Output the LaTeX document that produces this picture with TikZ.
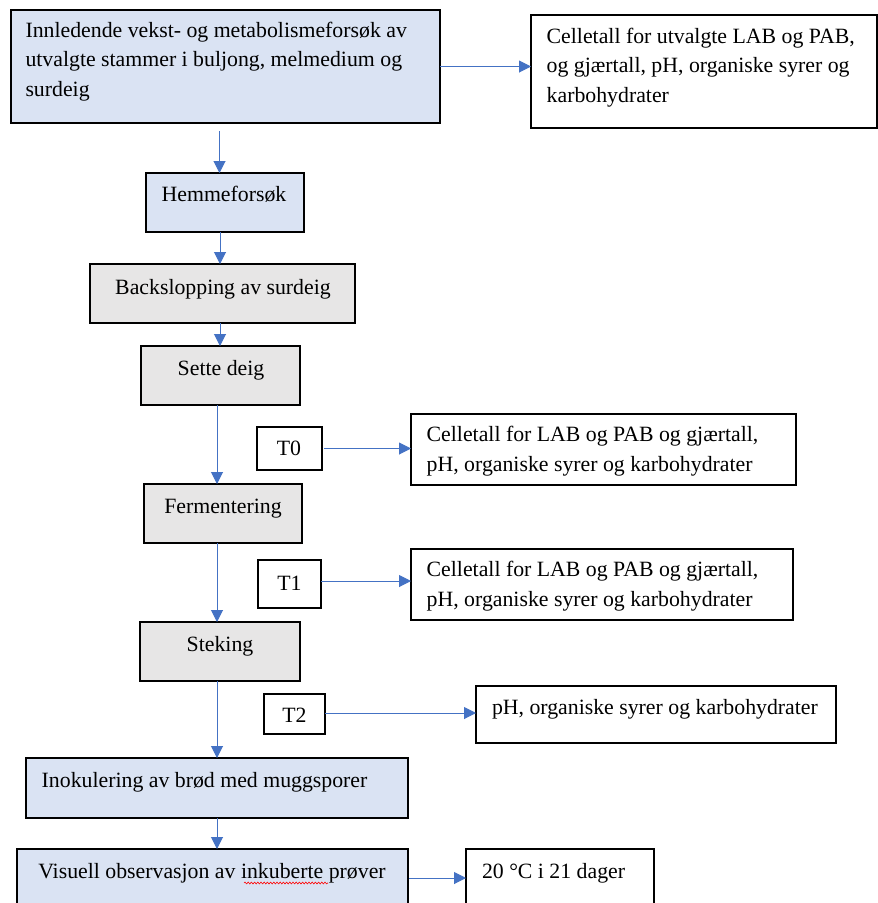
\documentclass[tikz,border=0pt]{standalone}
\usepackage{fontspec}
\setmainfont{Liberation Serif}
\usetikzlibrary{arrows.meta,decorations.pathmorphing}
\definecolor{bluefill}{HTML}{DAE3F3}
\definecolor{grayfill}{HTML}{E7E6E6}
\definecolor{arrowblue}{HTML}{4472C4}
\tikzset{
  boxbase/.style={draw=black, line width=1.4pt, inner sep=0pt, outer sep=0pt, rectangle},
  bluebox/.style={boxbase, fill=bluefill},
  graybox/.style={boxbase, fill=grayfill},
  whitebox/.style={boxbase, fill=white},
  txt/.style={inner sep=0pt, outer sep=0pt, align=left, font=\fontsize{21.8}{29.5}\selectfont},
  arr/.style={draw=arrowblue, line width=1pt, -{Triangle[length=12pt,width=12pt]}},
}
\begin{document}
\begin{tikzpicture}[x=1pt,y=-1pt]
\useasboundingbox (0,0) rectangle (878,903);
\clip (0,0) rectangle (878,903);
\fill[white] (0,0) rectangle (878,903);

% boxes
\node[bluebox, minimum width=429pt, minimum height=113pt] (a) at (225.5,66.5) {};
\node[whitebox, minimum width=346pt, minimum height=113pt] (b) at (704,71.5) {};
\node[bluebox, minimum width=158pt, minimum height=59pt] (h) at (225,202.5) {};
\node[graybox, minimum width=265pt, minimum height=59pt] (bs) at (222.5,293.5) {};
\node[graybox, minimum width=159pt, minimum height=59pt] (s) at (220.5,375.5) {};
\node[whitebox, minimum width=65pt, minimum height=43pt] (t0) at (289.5,448.5) {};
\node[whitebox, minimum width=385pt, minimum height=71pt] (c0) at (603.5,449.5) {};
\node[graybox, minimum width=158pt, minimum height=59pt] (f) at (223,513.5) {};
\node[whitebox, minimum width=63pt, minimum height=48pt] (t1) at (289.5,584) {};
\node[whitebox, minimum width=382pt, minimum height=71pt] (c1) at (602,584.5) {};
\node[graybox, minimum width=160pt, minimum height=59pt] (st) at (220,651.5) {};
\node[whitebox, minimum width=61pt, minimum height=40pt] (t2) at (294.5,714) {};
\node[whitebox, minimum width=360pt, minimum height=57pt] (c2) at (656,714.5) {};
\node[bluebox, minimum width=382pt, minimum height=60pt] (i) at (217,788) {};
\node[bluebox, minimum width=391pt, minimum height=80pt] (v) at (212.5,889) {};
\node[whitebox, minimum width=188pt, minimum height=80pt] (d) at (560,889) {};

% texts (base = baseline of the last line)
\node[txt, anchor=base west] (ta) at (25.5,96) {Innledende vekst- og metabolismeforsøk av\\utvalgte stammer i buljong, melmedium og\\surdeig};
\node[txt, anchor=base west] (tb) at (546.7,102) {Celletall for utvalgte LAB og PAB,\\og gjærtall, pH, organiske syrer og\\karbohydrater};
\node[txt, anchor=base] (th) at (224,201.5) {Hemmeforsøk};
\node[txt, anchor=base] (tbs) at (223,294) {Backslopping av surdeig};
\node[txt, anchor=base] (ts) at (221,375) {Sette deig};
\node[txt, anchor=base] (tt0) at (289,455) {T0};
\node[txt, anchor=base west] (tc0) at (426.7,471) {Celletall for LAB og PAB og gjærtall,\\pH, organiske syrer og karbohydrater};
\node[txt, anchor=base] (tf) at (223,513) {Fermentering};
\node[txt, anchor=base] (tt1) at (289.5,590) {T1};
\node[txt, anchor=base west] (tc1) at (426.7,606) {Celletall for LAB og PAB og gjærtall,\\pH, organiske syrer og karbohydrater};
\node[txt, anchor=base] (tst) at (220,651) {Steking};
\node[txt, anchor=base] (tt2) at (294.5,722) {T2};
\node[txt, anchor=base west] (tc2) at (492,714) {pH, organiske syrer og karbohydrater};
\node[txt, anchor=base west] (ti) at (41.7,787) {Inokulering av brød med muggsporer};
\node[txt, anchor=base west] (tv) at (38.3,878.3) {Visuell observasjon av inkuberte prøver};
\node[txt, anchor=base west] (td) at (482,878.3) {20 °C i 21 dager};

% spell-check squiggle
\draw[red, line width=0.6pt, decorate, decoration={snake, amplitude=0.9pt, segment length=3.2pt}] (244,883) -- (328,883);

% connectors
\draw[arr] (a.east) -- (a.east -| b.west);
\draw[arr] ([xshift=-6pt,yshift=-8pt]a.south) coordinate (s1) -- (s1 |- h.north);
\draw[arr] ([xshift=-5pt]h.south) coordinate (s2) -- (s2 |- bs.north);
\draw[arr] ([xshift=-2.5pt]bs.south) coordinate (s3) -- (s3 |- s.north);
\draw[arr] ([xshift=-3.5pt]s.south) coordinate (s4) -- (s4 |- f.north);
\draw[arr, shorten <=2pt] (t0.east) -- (t0.east -| c0.west);
\draw[arr] ([xshift=-6pt]f.south) coordinate (s5) -- (s5 |- st.north);
\draw[arr] ([yshift=3pt]t1.east) coordinate (s6) -- (s6 -| c1.west);
\draw[arr] ([xshift=-3pt]st.south) coordinate (s7) -- (s7 |- i.north);
\draw[arr] ([yshift=1pt]t2.east) coordinate (s8) -- (s8 -| c2.west);
\draw[arr] (i.south) -- (i.south |- v.north);
\draw[arr] ([yshift=11pt,xshift=1pt]v.east) coordinate (s9) -- (s9 -| d.west);
\end{tikzpicture}
\end{document}
